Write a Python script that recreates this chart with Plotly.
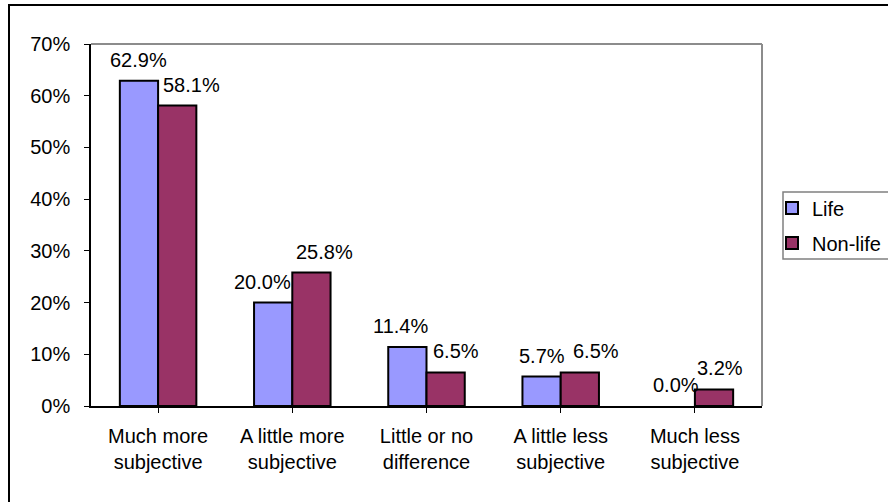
import plotly.graph_objects as go

# Survey responses: how much more subjective is the assessment
categories = [
    "Much more<br>subjective",
    "A little more<br>subjective",
    "Little or no<br>difference",
    "A little less<br>subjective",
    "Much less<br>subjective",
]
life = [62.9, 20.0, 11.4, 5.7, 0.0]
non_life = [58.1, 25.8, 6.5, 6.5, 3.2]
y_ticks = [0, 10, 20, 30, 40, 50, 60, 70]
y_tick_labels = ["0%", "10%", "20%", "30%", "40%", "50%", "60%", "70%"]

# horizontal nudges (px) for the value labels so neighbouring labels don't collide
life_nudge = [0, -11, -7, 0, 0]
non_life_nudge = [14, 13, 10, 16, 6]

W, H = 888, 502
ML, MR, MT, MB = 91, 126, 44, 96
PW, PH = W - ML - MR, H - MT - MB
BARGAP = 0.43
FONT = "Liberation Sans, Arial, sans-serif"


def outline_widths(values):
    # empty bars get no outline
    return [2 if v > 0 else 0 for v in values]


fig = go.Figure()
fig.add_trace(go.Bar(
    name="Life", x=list(range(len(categories))), y=life, legendgroup="a",
    marker=dict(color="#9999FF", line=dict(color="black", width=outline_widths(life))),
))
fig.add_trace(go.Bar(
    name="Non-life", x=list(range(len(categories))), y=non_life, legendgroup="b",
    marker=dict(color="#993366", line=dict(color="black", width=outline_widths(non_life))),
))

# value labels above each bar
half = (1 - BARGAP) / 4
annotations = []
for i in range(len(categories)):
    for val, off, nudge in ((life[i], -half, life_nudge[i]), (non_life[i], half, non_life_nudge[i])):
        annotations.append(dict(
            x=i + off, y=val, xref="x", yref="y",
            text=f"{val:.1f}%", showarrow=False,
            xanchor="center", yanchor="middle",
            xshift=nudge, yshift=21,
            font=dict(family=FONT, size=20, color="black"),
        ))


def px_x(p):
    return (p - ML) / PW


def px_y(p):
    return (H - MB - p) / PH


shapes = [
    # plot-area frame (top and right edges)
    dict(type="line", xref="paper", yref="paper", x0=0, x1=1, y0=1, y1=1,
         line=dict(color="#8c8c8c", width=2)),
    dict(type="line", xref="paper", yref="paper", x0=1, x1=1, y0=0, y1=1,
         line=dict(color="#8c8c8c", width=2)),
    # legend box
    dict(type="rect", xref="paper", yref="paper",
         x0=px_x(783), x1=px_x(W + 20), y0=px_y(259), y1=px_y(192),
         line=dict(color="#808080", width=1.5), fillcolor="rgba(0,0,0,0)"),
    # outer chart border
    dict(type="rect", xref="paper", yref="paper",
         x0=px_x(9), x1=px_x(W + 20), y0=px_y(H + 20), y1=px_y(5),
         line=dict(color="black", width=2), fillcolor="rgba(0,0,0,0)"),
]

fig.update_layout(
    width=W, height=H,
    margin=dict(l=ML, r=MR, t=MT, b=MB, autoexpand=False),
    paper_bgcolor="white", plot_bgcolor="rgba(0,0,0,0)",
    barmode="group", bargap=BARGAP, bargroupgap=0,
    font=dict(family=FONT, size=20, color="black"),
    showlegend=True,
    legend=dict(
        x=px_x(772), xanchor="left", y=px_y(225.5), yanchor="middle",
        borderwidth=0, bgcolor="rgba(0,0,0,0)",
        font=dict(family=FONT, size=20, color="black"),
        tracegroupgap=6,
    ),
    xaxis=dict(
        tickmode="array", tickvals=list(range(len(categories))), ticktext=categories,
        range=[-0.5, len(categories) - 0.5],
        tickson="boundaries", ticks="outside", ticklen=5, tickcolor="black",
        showline=True, linecolor="black", linewidth=1.5,
        showgrid=False, zeroline=False, ticklabelstandoff=6,
    ),
    yaxis=dict(
        range=[0, 70], tickmode="array", tickvals=y_ticks, ticktext=y_tick_labels,
        ticks="outside", ticklen=5, tickcolor="black",
        showline=True, linecolor="black", linewidth=1.5,
        showgrid=False, zeroline=False, ticklabelstandoff=10,
    ),
    annotations=annotations,
    shapes=shapes,
)

fig.write_html("out.html")
